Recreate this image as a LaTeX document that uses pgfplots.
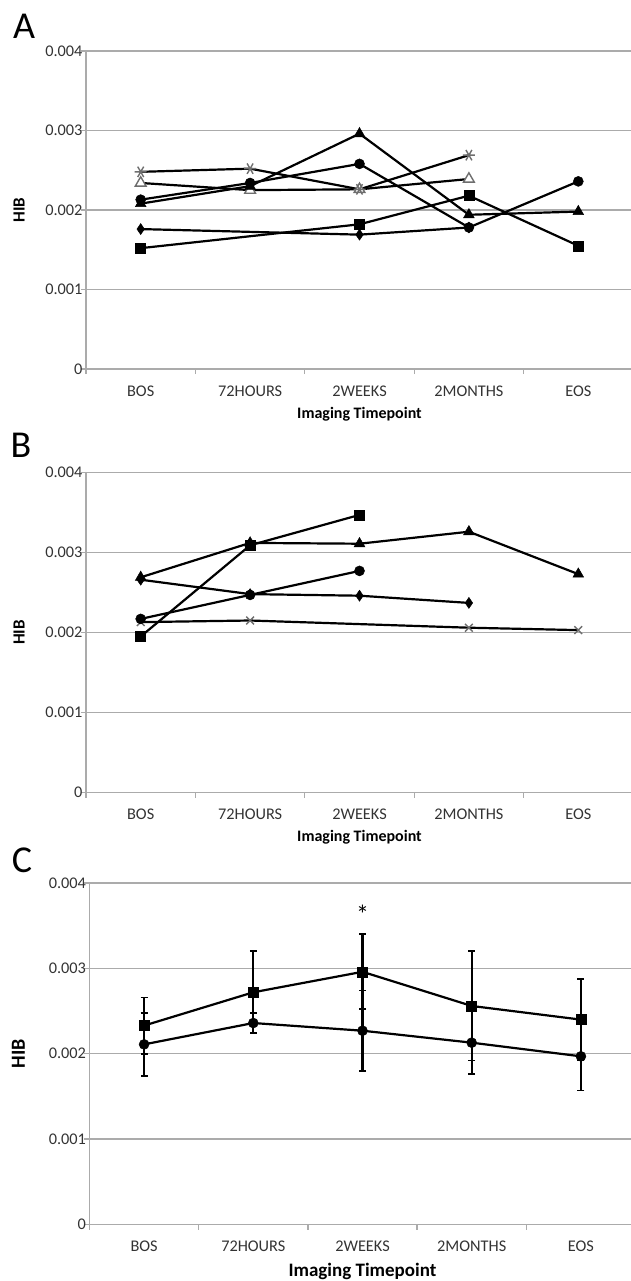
\documentclass[border=0pt]{standalone}
\usepackage{fontspec}
\setmainfont{Carlito}
\usepackage{pgfplots}
\pgfplotsset{compat=1.18}
\definecolor{gridgray}{HTML}{ABABAB}
\definecolor{markgray}{HTML}{6E6E6E}
\definecolor{ticktext}{HTML}{333333}
\newcommand\ticksize{\fontsize{16.3}{18}\selectfont}

\pgfplotsset{
  hib/.style={
    scale only axis, width=547pt, height=318pt,
    xmin=-0.5, xmax=4.5, ymin=0, ymax=0.004,
    axis x line*=bottom, axis y line*=left,
    axis line style={draw=gridgray, line width=1.3pt, -},
    xtick={0,1,2,3,4},
    xticklabels={BOS,72HOURS,2WEEKS,2MONTHS,EOS},
    major x tick style={draw=none},
    minor xtick={-0.5,0.5,1.5,2.5,3.5,4.5},
    ytick={0,0.001,0.002,0.003,0.004},
    yticklabels={0,0.001,0.002,0.003,0.004},
    scaled y ticks=false,
    ymajorgrids, grid style={draw=gridgray, line width=1.3pt},
    tick align=outside, major tick length=5pt, minor tick length=5pt,
    tick style={draw=gridgray, line width=1.3pt},
    tick label style={font=\ticksize, text=ticktext},
    xticklabel style={yshift=-8pt},
    yticklabel style={xshift=5pt},
    xlabel={Imaging Timepoint}, ylabel={HIB},
    xlabel style={at={(axis description cs:0.5,0)}, anchor=center,
                  yshift=-45pt, font=\fontsize{16}{18}\selectfont\bfseries},
    ylabel style={at={(axis description cs:0,0.5)}, anchor=center,
                  yshift=67pt, font=\fontsize{17}{18}\selectfont\bfseries},
    clip=false,
    every axis plot/.append style={black, line width=2.2pt},
  },
  sq/.style={mark=square*, mark size=5pt, mark options={fill=black, line width=0.5pt}},
  ci/.style={mark=*, mark size=5pt, mark options={fill=black, line width=0.5pt}},
  tr/.style={mark=triangle*, mark size=6.2pt, mark options={fill=black, line width=0.5pt}},
  di/.style={mark=diamond*, mark size=5.5pt, mark options={fill=black, line width=0.5pt, xscale=0.9}},
  as/.style={mark=asterisk, mark size=6pt, mark options={draw=markgray, line width=1.4pt, rotate=90}},
  ot/.style={mark=triangle*, mark size=6.2pt, mark options={fill=white, draw=markgray, line width=1.4pt}},
  xx/.style={mark=x, mark size=5.5pt, mark options={draw=markgray, line width=1.4pt}},
}

\begin{document}
\begin{tikzpicture}
\useasboundingbox (0pt,-1281pt) rectangle (631pt,0pt);

\node[font=\fontsize{38}{38}\selectfont] at (24pt,-26pt) {A};
\node[font=\fontsize{38}{38}\selectfont] at (21pt,-445pt) {B};
\node[font=\fontsize{38}{38}\selectfont] at (22pt,-860pt) {C};

% panel A
\begin{axis}[hib, at={(86pt,-369pt)}, anchor=south west]
\addplot[di] coordinates {(0,0.00176) (2,0.00169) (3,0.00178)};
\addplot[sq] coordinates {(0,0.00152) (2,0.00182) (3,0.00218) (4,0.00155)};
\addplot[ot] coordinates {(0,0.00234) (1,0.00225) (2,0.00226) (3,0.00239)};
\addplot[as] coordinates {(0,0.00248) (1,0.00252) (2,0.00226) (3,0.00269)};
\addplot[tr] coordinates {(0,0.00208) (1,0.00230) (2,0.00296) (3,0.00194) (4,0.00198)};
\addplot[ci] coordinates {(0,0.00213) (1,0.00234) (2,0.00258) (3,0.00178) (4,0.00236)};
\end{axis}

% panel B
\begin{axis}[hib, height=320pt, at={(86pt,-792.5pt)}, anchor=south west]
\addplot[xx] coordinates {(0,0.00213) (1,0.00215) (3,0.00206) (4,0.00203)};
\addplot[di] coordinates {(0,0.00266) (1,0.00248) (2,0.00246) (3,0.00237)};
\addplot[ci] coordinates {(0,0.00217) (1,0.00247) (2,0.00277)};
\addplot[tr] coordinates {(0,0.00269) (1,0.00312) (2,0.00311) (3,0.00326) (4,0.00273)};
\addplot[sq] coordinates {(0,0.00195) (1,0.00309) (2,0.00347)};
\end{axis}

% panel C
\begin{axis}[hib, width=546pt, height=341.5pt, at={(89.5pt,-1224.5pt)}, anchor=south west,
  xlabel style={yshift=-2pt, font=\fontsize{19}{21}\selectfont\bfseries},
  ylabel style={yshift=4pt, font=\fontsize{20}{22}\selectfont\bfseries},
  error bars/error bar style={black, line width=2.2pt},
  error bars/error mark options={rotate=90, mark size=3.5pt, line width=1.8pt, black}]
\addplot[sq, error bars/.cd, y dir=both, y explicit] coordinates {
  (0,0.00233) +- (0,0.00033)
  (1,0.00272) +- (0,0.00048)
  (2,0.00296) +- (0,0.00044)
  (3,0.00256) +- (0,0.00064)
  (4,0.00240) +- (0,0.00048)};
\addplot[ci, error bars/.cd, y dir=both, y explicit] coordinates {
  (0,0.00211) +- (0,0.00037)
  (1,0.00236) +- (0,0.00012)
  (2,0.00227) +- (0,0.00047)
  (3,0.00213) +- (0,0.00037)
  (4,0.00197) +- (0,0.00040)};
\node[anchor=base, font=\fontsize{26}{26}\selectfont] at (axis cs:2,0.00352) {*};
\end{axis}
\end{tikzpicture}
\end{document}
